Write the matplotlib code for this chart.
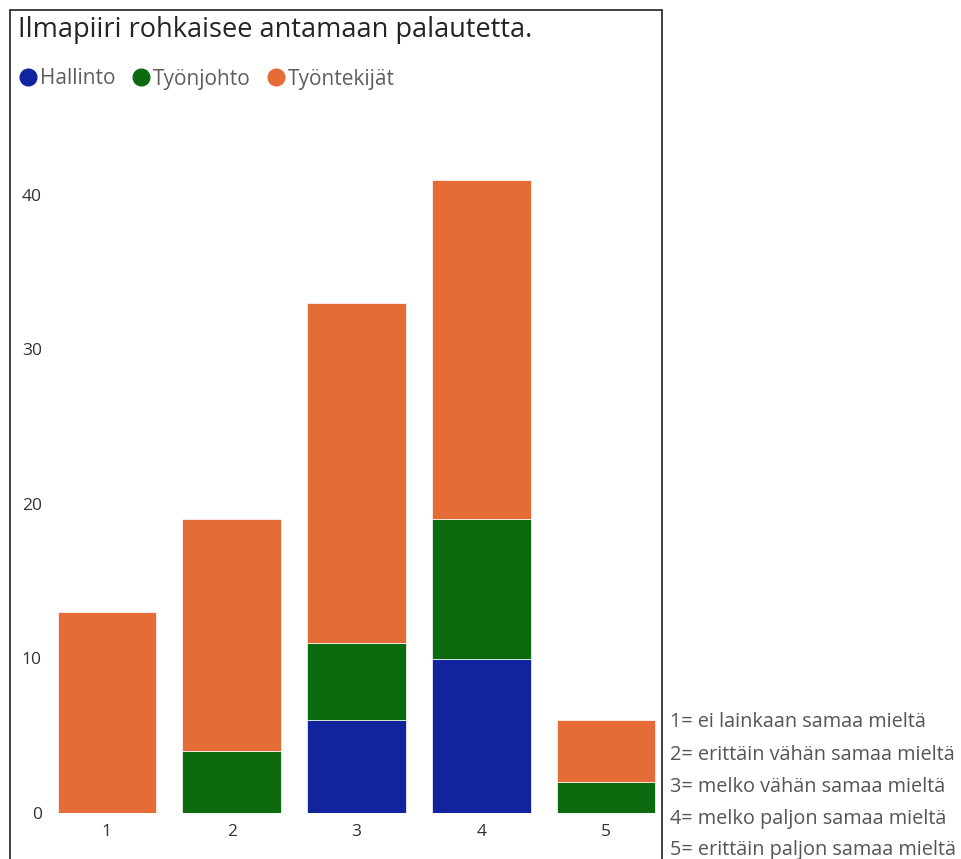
import matplotlib
matplotlib.use("Agg")
import matplotlib.pyplot as plt
from matplotlib.patches import Rectangle
from matplotlib.lines import Line2D
import numpy as np

categories = ["1", "2", "3", "4", "5"]
hallinto = [0, 0, 6, 10, 0]
tyonjohto = [0, 4, 5, 9, 2]
tyontekijat = [13, 15, 22, 22, 4]
series_names = ["Hallinto", "Työnjohto", "Työntekijät"]
colors = ["#12239E", "#0D6B0F", "#E66C37"]
scale_notes = [
    "1= ei lainkaan samaa mieltä",
    "2= erittäin vähän samaa mieltä",
    "3= melko vähän samaa mieltä",
    "4= melko paljon samaa mieltä",
    "5= erittäin paljon samaa mieltä",
]
yticks = [0, 10, 20, 30, 40]

W, H = 962, 859
fig = plt.figure(figsize=(W / 100, H / 100), dpi=100)
fig.patch.set_facecolor("white")

# outer frame (extends beyond bottom)
fig.add_artist(Rectangle((10 / W, -0.05), (662 - 10) / W, 1.05 - 10 / H,
                         transform=fig.transFigure, fill=False,
                         edgecolor="#333333", linewidth=1.3))

ax = fig.add_axes([44.5 / W, (H - 813) / H, 624 / W, 663 / H])
x = np.arange(1, len(categories) + 1)
bottom = np.zeros(len(categories))
for vals, col in zip([hallinto, tyonjohto, tyontekijat], colors):
    ax.bar(x, vals, width=0.79, bottom=bottom, color=col,
           edgecolor="white", linewidth=0.5)
    bottom += np.array(vals)

ax.set_xlim(0.5, 5.5)
ax.set_ylim(0, 663 / 15.45)
ax.set_xticks(x)
ax.set_xticklabels(categories)
ax.set_yticks(yticks)
for s in ax.spines.values():
    s.set_visible(False)
ax.tick_params(axis="both", length=0, labelsize=12.5, colors="#333333",
               labelfontfamily="Open Sans")
ax.tick_params(axis="x", pad=8)
ax.tick_params(axis="y", pad=2)

fig.text(18 / W, 1 - 30 / H, "Ilmapiiri rohkaisee antamaan palautetta.",
         fontsize=19.5, family="Open Sans", color="#252423", va="center", ha="left")

# legend
handles = [Line2D([0], [0], marker="o", linestyle="", markersize=12,
                  markerfacecolor=c, markeredgecolor=c) for c in colors]
leg = fig.legend(handles, series_names, loc="center left",
                 bbox_to_anchor=(12 / W, 1 - 79 / H), ncol=3, frameon=False,
                 handletextpad=-0.15, columnspacing=0.45,
                 handlelength=1.5, borderaxespad=0, borderpad=0,
                 prop={"family": "Open Sans", "size": 15})
for t in leg.get_texts():
    t.set_color("#605E5C")

ys = [722, 755, 787, 819, 850]
for note, yy in zip(scale_notes, ys):
    fig.text(670 / W, 1 - yy / H, note, fontsize=14.3, family="Open Sans",
             color="#555555", va="center", ha="left")

fig.savefig("out.png", dpi=100, facecolor="white")
